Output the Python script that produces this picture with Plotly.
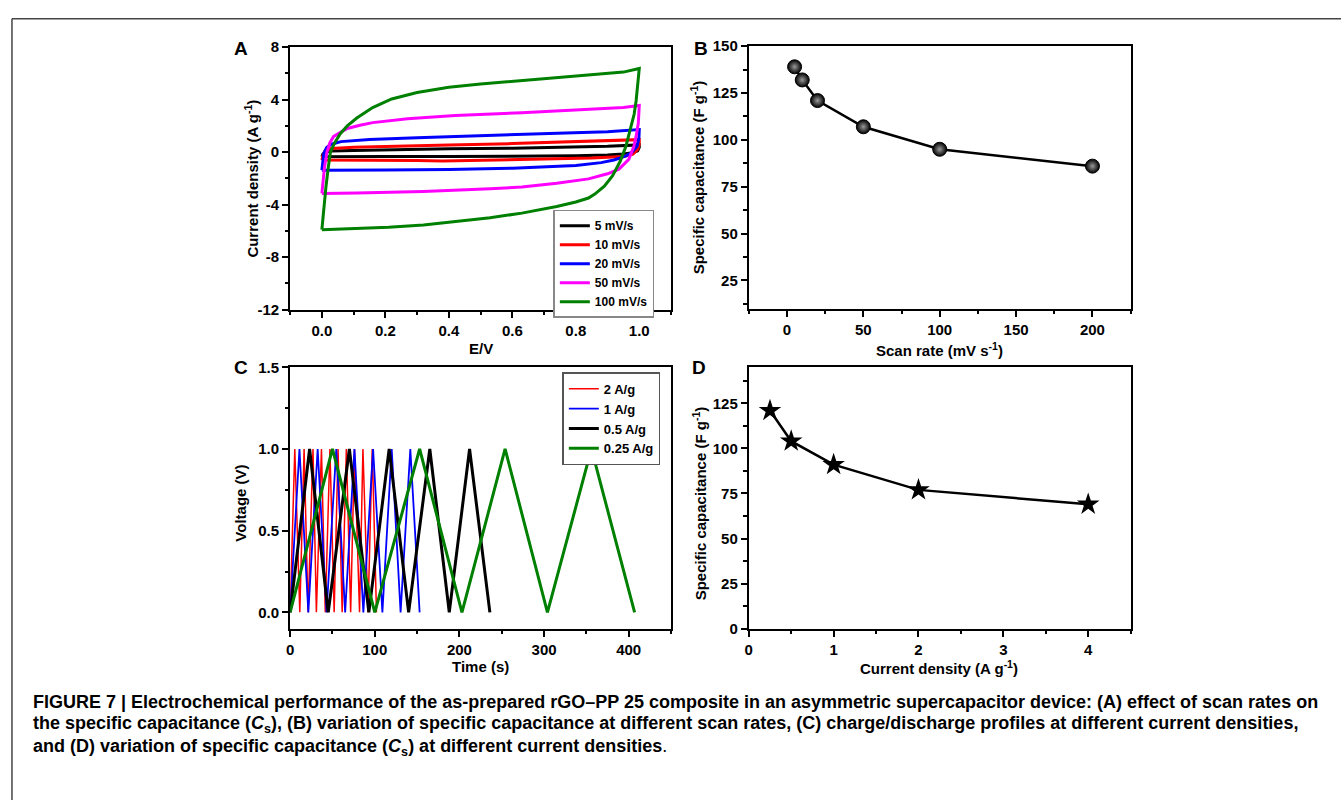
import plotly.graph_objects as go

W, H = 1341, 808
FONT = "Liberation Sans, Arial, sans-serif"

# ---------------- Panel A: CV curves (E in V, current density in A/g) -------------
cv_labels = ["5 mV/s", "10 mV/s", "20 mV/s", "50 mV/s", "100 mV/s"]
cv_colors = ["#000000", "#ff0000", "#0000ff", "#ff00ff", "#008000"]
cv_E = [
    [0.0, 0.003, 0.01, 0.03, 0.1, 0.2, 0.4, 0.6, 0.8, 0.9, 1.0, 1.0, 0.995, 0.98, 0.95, 0.9, 0.8, 0.6, 0.4, 0.2, 0.05, 0.0],
    [0.0, 0.003, 0.01, 0.03, 0.1, 0.2, 0.4, 0.6, 0.8, 0.9, 1.0, 1.0, 0.995, 0.98, 0.95, 0.85, 0.7, 0.5, 0.38, 0.3, 0.15, 0.0],
    [0.0, 0.002, 0.006, 0.015, 0.03, 0.06, 0.15, 0.3, 0.5, 0.7, 0.9, 1.0, 0.999, 0.993, 0.975, 0.957, 0.92, 0.88, 0.8, 0.6, 0.4, 0.2, 0.05, 0.0],
    [0.0, 0.003, 0.008, 0.016, 0.025, 0.037, 0.06, 0.08, 0.12, 0.16, 0.27, 0.42, 0.63, 0.84, 0.95, 1.0,
     0.997, 0.99, 0.983, 0.967, 0.936, 0.9, 0.873, 0.84, 0.74, 0.63, 0.53, 0.32, 0.11, 0.0],
    [0.0, 0.003, 0.008, 0.013, 0.02, 0.027, 0.04, 0.058, 0.08, 0.11, 0.16, 0.22, 0.3, 0.4, 0.5, 0.6, 0.7, 0.8, 0.9, 0.95, 1.0,
     0.995, 0.99, 0.984, 0.97, 0.958, 0.94, 0.916, 0.89, 0.86, 0.84, 0.8, 0.74, 0.63, 0.53, 0.42, 0.32, 0.21, 0.1, 0.0],
]
cv_I = [
    [-0.35, -0.15, 0.0, 0.08, 0.12, 0.18, 0.25, 0.3, 0.38, 0.44, 0.55, 0.35, 0.1, -0.05, -0.15, -0.22, -0.28, -0.32, -0.34, -0.33, -0.33, -0.35],
    [-0.6, -0.3, 0.1, 0.28, 0.38, 0.45, 0.55, 0.65, 0.78, 0.85, 0.95, 0.6, 0.2, -0.15, -0.33, -0.45, -0.52, -0.6, -0.68, -0.64, -0.6, -0.6],
    [-1.38, -0.8, -0.1, 0.35, 0.6, 0.8, 0.97, 1.1, 1.25, 1.38, 1.55, 1.72, 1.1, 0.45, -0.05, -0.3, -0.6, -0.8, -1.02, -1.22, -1.33, -1.36, -1.37, -1.38],
    [-3.15, -2.5, -1.2, 0.0, 0.7, 1.2, 1.55, 1.8, 2.05, 2.25, 2.55, 2.8, 3.0, 3.25, 3.4, 3.56,
     2.2, 1.2, 0.45, -0.55, -1.3, -1.65, -1.85, -2.04, -2.37, -2.66, -2.8, -3.0, -3.12, -3.15],
    [-5.9, -5.0, -3.8, -2.6, -1.2, 0.0, 0.7, 1.4, 2.0, 2.6, 3.4, 4.05, 4.55, 4.95, 5.2, 5.4, 5.55, 5.75, 5.95, 6.1, 6.38,
     5.0, 3.9, 2.9, 1.6, 0.45, -0.7, -1.8, -2.6, -3.2, -3.5, -3.8, -4.15, -4.65, -5.0, -5.3, -5.55, -5.72, -5.85, -5.92],
]
cv_yticks = [8, 4, 0, -4, -8, -12]
cv_yticktext = ["8", "4", "0", "-4", "-8", "-12"]

# ---------------- Panel B: capacitance vs scan rate -------------
scan_rate = [5, 10, 20, 50, 100, 200]
cap_scan = [139, 132, 121, 107, 95, 86]

# ---------------- Panel C: charge/discharge (time in s, voltage in V) -------------
gcd_labels = ["2 A/g", "1 A/g", "0.5 A/g", "0.25 A/g"]
gcd_colors = ["#ff0000", "#0000ff", "#000000", "#008000"]
gcd_widths = [1.5, 1.8, 3, 3]
gcd_t = [
    [0, 5.5, 11.4, 16.5, 21.2, 27, 31, 37, 41.5, 47, 52, 56.6, 61.5, 66.4, 71.5, 76, 82, 86, 92, 97, 102],
    [0, 11, 21.5, 32.5, 43, 54.5, 65, 76, 86.5, 98, 109, 120, 130.5, 142, 153],
    [0, 23, 45, 70, 93, 117, 140, 165, 188, 212, 236],
    [0, 50, 100, 153, 203, 254, 304, 356, 407],
]
gcd_v = [
    [0, 1, 0, 1, 0, 1, 0, 1, 0, 1, 0, 1, 0, 1, 0, 1, 0, 1, 0, 1, 0],
    [0, 1, 0, 1, 0, 1, 0, 1, 0, 1, 0, 1, 0, 1, 0],
    [0, 1, 0, 1, 0, 1, 0, 1, 0, 1, 0],
    [0, 1, 0, 1, 0, 1, 0, 1, 0],
]

# ---------------- Panel D: capacitance vs current density -------------
cur_density = [0.25, 0.5, 1, 2, 4]
cap_cur = [121, 104, 91, 77, 69]

caption_lines = [
    "<b>FIGURE 7 | Electrochemical performance of the as-prepared rGO–PP 25 composite in an asymmetric supercapacitor device: (A) effect of scan rates on</b>",
    "<b>the specific capacitance (<i>C</i><sub>s</sub>), (B) variation of specific capacitance at different scan rates, (C) charge/discharge profiles at different current densities,</b>",
    "<b>and (D) variation of specific capacitance (<i>C</i><sub>s</sub>) at different current densities</b>.",
]


def px(x):
    return x / W


def py(y):
    return 1 - y / H


fig = go.Figure()

for lab, col, e, i in zip(cv_labels, cv_colors, cv_E, cv_I):
    fig.add_trace(go.Scatter(x=e, y=i, mode="lines", name=lab, line=dict(color=col, width=3),
                             xaxis="x", yaxis="y", legend="legend"))

fig.add_trace(go.Scatter(x=scan_rate, y=cap_scan, mode="lines+markers", showlegend=False,
                         line=dict(color="black", width=2.5),
                         marker=dict(symbol="circle", size=14, color="black",
                                     gradient=dict(type="radial", color="#9a9a9a"),
                                     line=dict(color="black", width=1)),
                         xaxis="x2", yaxis="y2"))

for lab, col, wd, t, v in zip(gcd_labels, gcd_colors, gcd_widths, gcd_t, gcd_v):
    fig.add_trace(go.Scatter(x=t, y=v, mode="lines", name=lab, line=dict(color=col, width=wd),
                             xaxis="x3", yaxis="y3", legend="legend2"))

fig.add_trace(go.Scatter(x=cur_density, y=cap_cur, mode="lines+markers", showlegend=False,
                         line=dict(color="black", width=2.5),
                         marker=dict(symbol="star", size=17, color="black"),
                         xaxis="x4", yaxis="y4"))

tickfont = dict(family=FONT, size=15, color="black", weight="bold")


def axis(domain, rng, dtick, mdtick, anchor, fmt=None):
    d = dict(domain=domain, range=rng, dtick=dtick, tick0=0, anchor=anchor,
             showgrid=False, zeroline=False, showline=True, linecolor="black", linewidth=2,
             mirror=True, ticks="outside", ticklen=6, tickwidth=2, tickcolor="black",
             tickfont=tickfont,
             minor=dict(ticks="outside", ticklen=3.5, tickwidth=1.5, tickcolor="black",
                        dtick=mdtick, tick0=0, showgrid=False))
    if fmt:
        d["tickformat"] = fmt
    return d


xA = [px(287), px(669)]
yA = [py(307), py(39)]
xB = [px(747), px(1130)]
yB = [py(306), py(38)]
xC = [px(287), px(669)]
yC = [py(633), py(366)]
xD = [px(747), px(1130)]
yD = [py(633), py(366)]

ann = []


def text(x, y, s, size=15, angle=0, xanchor="center", family=FONT):
    ann.append(dict(x=px(x), y=py(y), xref="paper", yref="paper", text=s, showarrow=False,
                    textangle=angle, xanchor=xanchor, yanchor="middle",
                    font=dict(family=family, size=size, color="black")))


# axis titles
text(248, 173, "<b>Current density (A g<sup>-1</sup>)</b>", angle=-90)
text(478, 347, "<b>E/V</b>")
text(695, 172, "<b>Specific capacitance (F g<sup>-1</sup>)</b>", angle=-90)
text(938, 348, "<b>Scan rate (mV s<sup>-1</sup>)</b>")
text(237, 505, "<b>Voltage (V)</b>", angle=-90)
text(478, 672, "<b>Time (s)</b>")
text(697, 505, "<b>Specific capacitance (F g<sup>-1</sup>)</b>", angle=-90)
text(938, 673, "<b>Current density (A g<sup>-1</sup>)</b>")

# panel letters
text(238, 40, "<b>A</b>", size=19)
text(699, 40, "<b>B</b>", size=19)
text(238, 366, "<b>C</b>", size=19)
text(697, 366, "<b>D</b>", size=19)

# caption
for yy, line in zip([708, 731, 754], caption_lines):
    text(27, yy, line, size=18, xanchor="left")

legfontA = dict(family=FONT, size=12, color="black", weight="bold")
legfontC = dict(family=FONT, size=13, color="black", weight="bold")

yaxisA = axis(yA, [-12, 8], 4, 2, "x")
yaxisA.update(tickmode="array", tickvals=cv_yticks, ticktext=cv_yticktext)

fig.update_layout(
    width=W, height=H, margin=dict(l=0, r=0, t=0, b=0),
    paper_bgcolor="white", plot_bgcolor="white",
    xaxis=axis(xA, [-0.1, 1.1], 0.2, 0.1, "y", ".1f"),
    yaxis=yaxisA,
    xaxis2=axis(xB, [-25, 225], 50, 25, "y2"),
    yaxis2=axis(yB, [10, 150], 25, 12.5, "x2"),
    xaxis3=axis(xC, [0, 450], 100, 50, "y3"),
    yaxis3=axis(yC, [-0.1, 1.5], 0.5, 0.25, "x3", ".1f"),
    xaxis4=axis(xD, [0, 4.5], 1, 0.5, "y4"),
    yaxis4=axis(yD, [0, 145], 25, 12.5, "x4"),
    legend=dict(x=px(551), y=py(205), xanchor="left", yanchor="top", bgcolor="white",
                bordercolor="#888888", borderwidth=1.5, font=legfontA, tracegroupgap=0,
                itemwidth=30),
    legend2=dict(x=px(560), y=py(371), xanchor="left", yanchor="top", bgcolor="white",
                 bordercolor="#555555", borderwidth=1.5, font=legfontC, tracegroupgap=0,
                 itemwidth=30),
    annotations=ann,
    shapes=[
        dict(type="line", xref="paper", yref="paper", x0=px(8), x1=1, y0=py(10), y1=py(10),
             line=dict(color="#444444", width=1.5)),
        dict(type="line", xref="paper", yref="paper", x0=px(8), x1=px(8), y0=py(10), y1=0,
             line=dict(color="#444444", width=1.5)),
    ],
    showlegend=True,
)

fig.write_html("out.html", config={"displayModeBar": False},
               post_script="document.body.style.margin='0';")
